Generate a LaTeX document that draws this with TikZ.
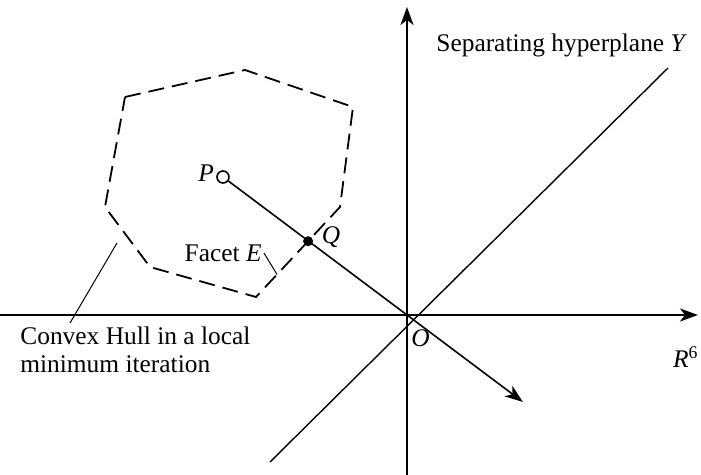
\documentclass[tikz,border=0pt]{standalone}
\usepackage{fontspec}
\setmainfont{Liberation Serif}
\usetikzlibrary{arrows.meta, positioning, calc}

\begin{document}
\begin{tikzpicture}[
  x=0.5pt, y=-0.5pt,
  font=\fontsize{12.7}{14}\selectfont,
  axis/.style={line width=0.7pt, -{Stealth[length=9pt, width=6.5pt, inset=2.5pt]}},
  plane/.style={line width=0.7pt},
  hull/.style={line width=0.9pt, dash pattern=on 8pt off 4pt},
  leader/.style={line width=0.5pt},
  lbl/.style={inner sep=1pt}
]
  \useasboundingbox (0,0) rectangle (701,475);
  % axes
  \coordinate (O) at (407,315);
  \coordinate (xl) at (0,315);
  \coordinate (xr) at (698,315);
  \coordinate (yb) at (407,475);
  \coordinate (yt) at (407,7);
  \draw[axis] (xl) -- (xr);
  \draw[axis] (yb) -- (yt);
  % separating hyperplane
  \coordinate (hb) at (270,462);
  \coordinate (ht) at (668,68);
  \draw[plane] (hb) -- (ht);
  % convex hull
  \coordinate (h1) at (125,97);
  \coordinate (h2) at (245,70);
  \coordinate (h3) at (353,107);
  \coordinate (h4) at (340,207);
  \coordinate (h5) at (256,297);
  \coordinate (h6) at (150,267);
  \coordinate (h7) at (105,207);
  \draw[hull] (h1) -- (h2) -- (h3) -- (h4) -- (h5) -- (h6) -- (h7) -- cycle;
  % points P, Q
  \node[circle, draw, line width=0.8pt, fill=white, minimum size=6pt, inner sep=0pt] (P) at (223,177) {};
  \node[circle, fill, minimum size=5pt, inner sep=0pt] (Q) at ($(h4)!0.38!(h5)$) {};
  \coordinate (tip) at ($(P)!1.63!(O)$);
  \draw[axis, line width=0.8pt] (P) -- (tip);
  % labels
  \node[lbl, left=0pt of P, yshift=2pt] {\textit{P}};
  \node[lbl, right=3pt of Q, yshift=2pt] {\textit{Q}};
  \node[lbl, below right=6pt and 1pt of O] {\textit{O}};
  \node[lbl, anchor=east] at (701,357) {\textit{R}\textsuperscript{6}};
  \node[lbl, anchor=west] at (434,45) {Separating hyperplane \textit{Y}};
  \node[lbl, anchor=east] (fE) at (264,253) {Facet \textit{E}};
  \coordinate (fEend) at ($(h4)!0.75!(h5)$);
  \draw[leader] (fE.east) -- (fEend);
  \node[lbl, anchor=north west, align=left] (cvx) at (18,324) {Convex Hull in a local\\minimum iteration};
  \coordinate (cvxtop) at (117,243);
  \coordinate (cvxend) at (70,323);
  \draw[leader] (cvxtop) -- (cvxend);
\end{tikzpicture}
\end{document}
